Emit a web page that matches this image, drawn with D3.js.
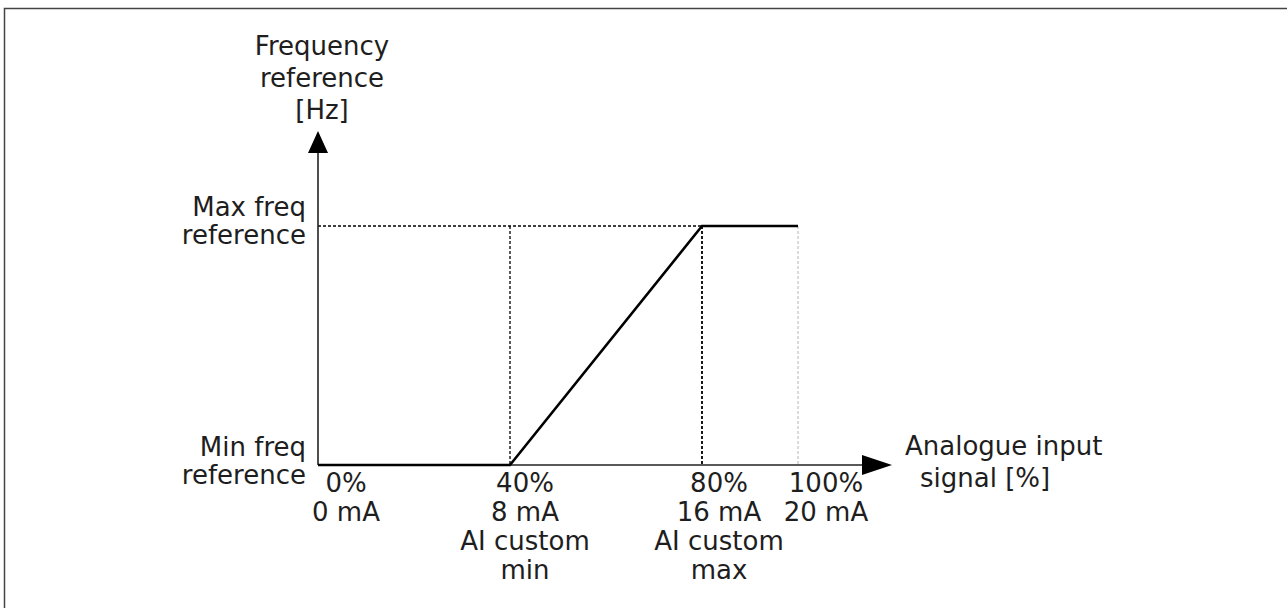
<!DOCTYPE html>
<html>
<head>
<meta charset="utf-8">
<script src="https://cdn.jsdelivr.net/npm/d3@7"></script>
<style>
  body { margin: 0; background: #fff; }
  text { font-family: "DejaVu Sans", Verdana, sans-serif; font-size: 26px; fill: #1e1e1e; }
</style>
</head>
<body>
<div id="chart"></div>
<script>
// page size
var w = 1287;
var h = 608;

// curve: analogue input [%] -> frequency reference (0 = min, 1 = max)
var inputPct = [0, 40, 80, 100];
var freqRef = [0, 0, 1, 1];

// tick labels under the x axis
var tickPct = [0, 40, 80, 100];
var tickLines = [
    ["0%", "0 mA"],
    ["40%", "8 mA", "AI custom", "min"],
    ["80%", "16 mA", "AI custom", "max"],
    ["100%", "20 mA"]
];
var yLabels = [["Max freq", "reference"], ["Min freq", "reference"]];
var yTitle = ["Frequency", "reference", "[Hz]"];
var xTitle = ["Analogue input", "signal [%]"];

var xScale = d3.scaleLinear().domain([0, 100]).range([318, 798]);
var yScale = d3.scaleLinear().domain([0, 1]).range([465, 226]);

var svg = d3.select("#chart").append("svg")
    .attr("width", w)
    .attr("height", h);

// frame (runs off the right / bottom edge like the original scan)
svg.append("rect")
    .attr("x", 4.5).attr("y", 8.5)
    .attr("width", w + 20).attr("height", h + 20)
    .attr("fill", "none")
    .attr("stroke", "#444")
    .attr("stroke-width", 1.5);

var x0 = xScale(0), y0 = yScale(0);

// dashed guides
svg.append("line")
    .attr("x1", x0).attr("x2", xScale(80))
    .attr("y1", yScale(1)).attr("y2", yScale(1))
    .attr("stroke", "#000").attr("stroke-width", 1.4)
    .attr("stroke-dasharray", "3,2");

svg.selectAll("line.guide")
    .data([40, 80, 100])
    .enter()
    .append("line")
    .attr("class", "guide")
    .attr("x1", function(d) { return xScale(d); })
    .attr("x2", function(d) { return xScale(d); })
    .attr("y1", yScale(1))
    .attr("y2", y0)
    .attr("stroke", function(d) { return d == 100 ? "#c8c8c8" : "#000"; })
    .attr("stroke-width", function(d) { return d == 80 ? 1.8 : 1.3; })
    .attr("stroke-dasharray", "3,2");

// axes with arrow heads
svg.append("line")
    .attr("x1", x0).attr("x2", x0)
    .attr("y1", y0).attr("y2", 150)
    .attr("stroke", "#222").attr("stroke-width", 1.6);
svg.append("line")
    .attr("x1", x0).attr("x2", 864)
    .attr("y1", y0).attr("y2", y0)
    .attr("stroke", "#222").attr("stroke-width", 1.6);

svg.append("path")
    .attr("d", "M" + x0 + ",131L" + (x0 + 10) + ",153L" + (x0 - 10) + ",153Z")
    .attr("fill", "#000");
svg.append("path")
    .attr("d", "M892," + y0 + "L862," + (y0 - 10) + "L862," + (y0 + 10) + "Z")
    .attr("fill", "#000");

// the curve itself
var line = d3.line()
    .x(function(d) { return xScale(d[0]); })
    .y(function(d) { return yScale(d[1]); });

svg.append("path")
    .datum(d3.zip(inputPct, freqRef))
    .attr("d", line)
    .attr("fill", "none")
    .attr("stroke", "#000")
    .attr("stroke-width", 2.6);

// x tick labels
var labelShift = [28, 15, 17, 28];
var tickG = svg.selectAll("g.tick")
    .data(tickPct)
    .enter()
    .append("g")
    .attr("class", "tick")
    .attr("transform", function(d, i) { return "translate(" + (xScale(d) + labelShift[i]) + ",0)"; });

tickG.selectAll("text")
    .data(function(d, i) { return tickLines[i]; })
    .enter()
    .append("text")
    .attr("text-anchor", "middle")
    .attr("y", function(d, j) { return 492 + j * 29; })
    .text(function(d) { return d; });

// y labels
var yLabelBase = [yScale(1) - 10, yScale(0) - 9];
yLabels.forEach(function(lines, i) {
    lines.forEach(function(t, j) {
        svg.append("text")
            .attr("x", 306)
            .attr("y", yLabelBase[i] + j * 28)
            .attr("text-anchor", "end")
            .text(t);
    });
});

// axis titles
yTitle.forEach(function(t, j) {
    svg.append("text")
        .attr("x", 322)
        .attr("y", 55 + j * 32)
        .attr("text-anchor", "middle")
        .text(t);
});
var xTitleX = [905, 920];
xTitle.forEach(function(t, j) {
    svg.append("text")
        .attr("x", xTitleX[j])
        .attr("y", 455 + j * 32)
        .text(t);
});
</script>
</body>
</html>
